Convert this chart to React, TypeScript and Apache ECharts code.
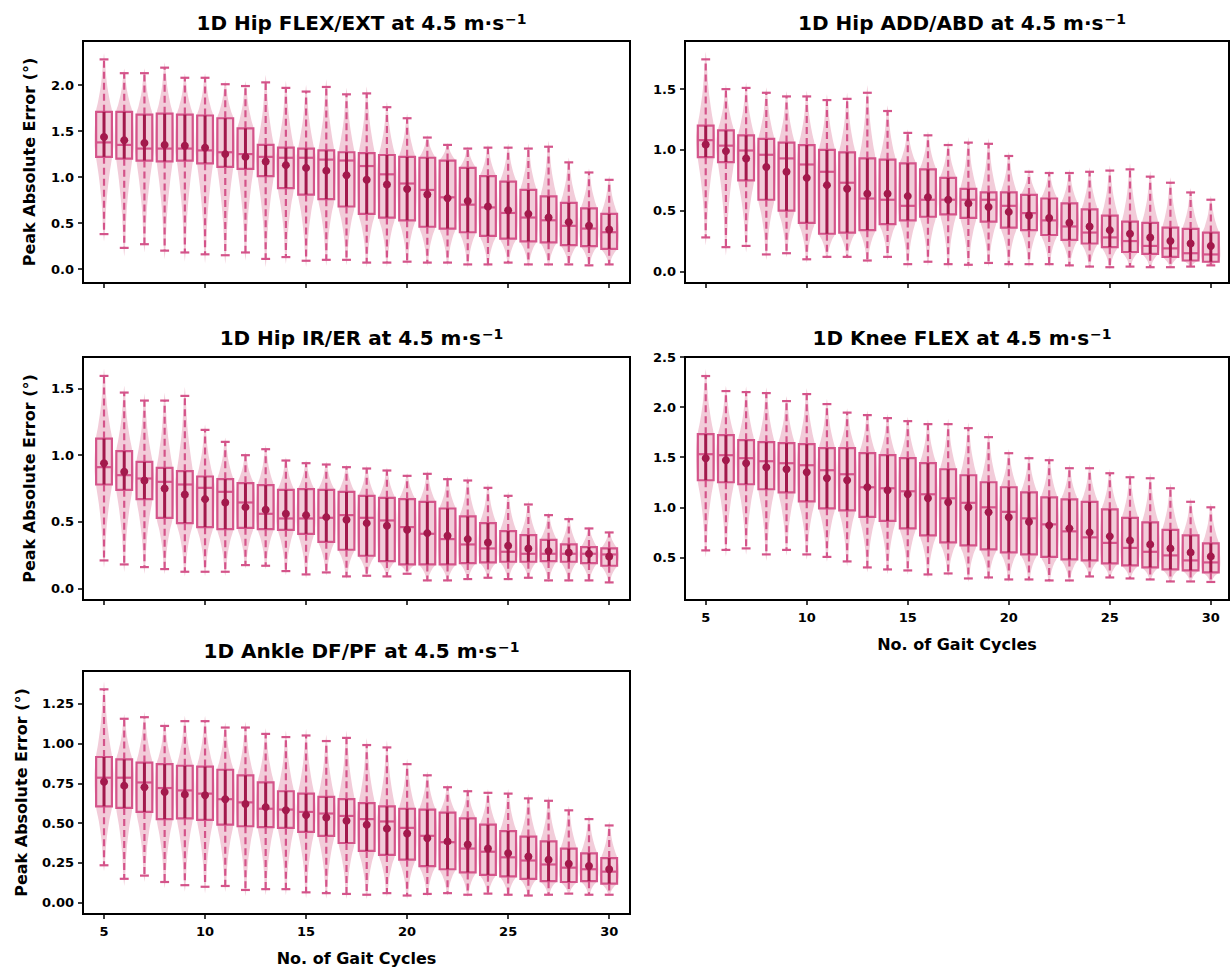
import React, { useEffect, useRef } from "react";
import * as echarts from "echarts";

const cycles = [5, 6, 7, 8, 9, 10, 11, 12, 13, 14, 15, 16, 17, 18, 19, 20, 21, 22, 23, 24, 25, 26, 27, 28, 29, 30];
const xTicks = [5, 10, 15, 20, 25, 30];

// 1D Hip FLEX/EXT
const hipFlexMax = [2.28, 2.13, 2.13, 2.19, 2.08, 2.08, 2.01, 1.99, 2.03, 1.97, 1.93, 1.98, 1.9, 1.91, 1.76, 1.64, 1.43, 1.35, 1.31, 1.32, 1.32, 1.31, 1.33, 1.16, 1.05, 0.97];
const hipFlexQ3 = [1.71, 1.71, 1.68, 1.69, 1.68, 1.67, 1.64, 1.53, 1.35, 1.32, 1.31, 1.29, 1.27, 1.26, 1.24, 1.22, 1.21, 1.18, 1.1, 1.01, 0.95, 0.86, 0.79, 0.72, 0.66, 0.6];
const hipFlexMed = [1.377, 1.35, 1.31, 1.31, 1.31, 1.29, 1.27, 1.25, 1.22, 1.21, 1.21, 1.19, 1.18, 1.12, 1.03, 0.93, 0.86, 0.78, 0.7, 0.67, 0.61, 0.56, 0.53, 0.47, 0.44, 0.4];
const hipFlexMean = [1.435, 1.4, 1.37, 1.35, 1.34, 1.32, 1.25, 1.22, 1.17, 1.13, 1.1, 1.07, 1.02, 0.97, 0.92, 0.87, 0.81, 0.77, 0.74, 0.68, 0.64, 0.6, 0.56, 0.51, 0.47, 0.43];
const hipFlexQ1 = [1.22, 1.2, 1.18, 1.17, 1.18, 1.15, 1.11, 1.09, 1.01, 0.88, 0.81, 0.76, 0.68, 0.6, 0.56, 0.53, 0.46, 0.44, 0.4, 0.36, 0.33, 0.3, 0.29, 0.26, 0.25, 0.22];
const hipFlexMin = [0.38, 0.23, 0.27, 0.2, 0.18, 0.16, 0.15, 0.18, 0.11, 0.13, 0.09, 0.1, 0.1, 0.07, 0.07, 0.08, 0.07, 0.07, 0.05, 0.05, 0.07, 0.05, 0.05, 0.05, 0.04, 0.05];

// 1D Hip ADD/ABD
const hipAddMax = [1.745, 1.5, 1.51, 1.47, 1.44, 1.44, 1.41, 1.42, 1.47, 1.32, 1.14, 1.12, 1.04, 1.06, 1.05, 0.95, 0.82, 0.81, 0.81, 0.82, 0.83, 0.84, 0.78, 0.73, 0.65, 0.59];
const hipAddQ3 = [1.2, 1.16, 1.12, 1.09, 1.06, 1.04, 1.0, 0.98, 0.93, 0.92, 0.89, 0.84, 0.77, 0.68, 0.65, 0.65, 0.63, 0.6, 0.56, 0.51, 0.46, 0.41, 0.4, 0.36, 0.35, 0.32];
const hipAddMed = [1.08, 1.035, 0.995, 0.96, 0.93, 0.88, 0.82, 0.73, 0.6, 0.59, 0.54, 0.59, 0.59, 0.59, 0.59, 0.54, 0.48, 0.42, 0.37, 0.32, 0.28, 0.25, 0.21, 0.19, 0.15, 0.14];
const hipAddMean = [1.044, 0.99, 0.93, 0.86, 0.82, 0.77, 0.71, 0.68, 0.64, 0.64, 0.62, 0.61, 0.59, 0.56, 0.53, 0.49, 0.46, 0.44, 0.4, 0.37, 0.34, 0.31, 0.28, 0.25, 0.23, 0.21];
const hipAddQ1 = [0.94, 0.9, 0.75, 0.59, 0.5, 0.4, 0.31, 0.32, 0.34, 0.39, 0.42, 0.45, 0.47, 0.44, 0.41, 0.36, 0.34, 0.3, 0.26, 0.23, 0.2, 0.16, 0.145, 0.12, 0.09, 0.08];
const hipAddMin = [0.28, 0.2, 0.21, 0.14, 0.15, 0.1, 0.12, 0.12, 0.09, 0.12, 0.06, 0.08, 0.06, 0.055, 0.07, 0.06, 0.06, 0.06, 0.05, 0.04, 0.035, 0.04, 0.035, 0.035, 0.04, 0.05];

// 1D Hip IR/ER
const hipRotMax = [1.595, 1.47, 1.41, 1.41, 1.445, 1.19, 1.1, 1.0, 1.045, 0.96, 0.94, 0.93, 0.91, 0.9, 0.885, 0.845, 0.86, 0.82, 0.81, 0.755, 0.695, 0.63, 0.55, 0.52, 0.45, 0.42];
const hipRotQ3 = [1.125, 1.03, 0.95, 0.905, 0.88, 0.84, 0.82, 0.79, 0.775, 0.74, 0.745, 0.74, 0.725, 0.695, 0.68, 0.67, 0.65, 0.6, 0.54, 0.49, 0.43, 0.4, 0.365, 0.33, 0.31, 0.3];
const hipRotMed = [0.91, 0.85, 0.825, 0.8, 0.78, 0.755, 0.725, 0.645, 0.56, 0.525, 0.525, 0.53, 0.55, 0.53, 0.51, 0.46, 0.41, 0.37, 0.33, 0.3, 0.275, 0.26, 0.26, 0.26, 0.26, 0.255];
const hipRotMean = [0.94, 0.875, 0.81, 0.75, 0.705, 0.67, 0.645, 0.61, 0.59, 0.56, 0.55, 0.535, 0.515, 0.49, 0.47, 0.44, 0.415, 0.395, 0.37, 0.345, 0.32, 0.3, 0.28, 0.27, 0.26, 0.24];
const hipRotQ1 = [0.78, 0.74, 0.67, 0.53, 0.49, 0.46, 0.445, 0.455, 0.445, 0.44, 0.41, 0.35, 0.29, 0.245, 0.205, 0.18, 0.18, 0.18, 0.19, 0.195, 0.2, 0.2, 0.205, 0.2, 0.19, 0.17];
const hipRotMin = [0.21, 0.18, 0.16, 0.145, 0.125, 0.125, 0.125, 0.175, 0.17, 0.13, 0.105, 0.12, 0.09, 0.095, 0.09, 0.11, 0.06, 0.06, 0.07, 0.08, 0.07, 0.08, 0.06, 0.06, 0.06, 0.045];

// 1D Knee FLEX
const kneeMax = [2.31, 2.16, 2.15, 2.14, 2.06, 2.13, 2.03, 1.945, 1.92, 1.89, 1.86, 1.83, 1.83, 1.79, 1.7, 1.54, 1.49, 1.47, 1.39, 1.39, 1.34, 1.3, 1.29, 1.19, 1.055, 1.0];
const kneeQ3 = [1.73, 1.72, 1.67, 1.65, 1.64, 1.63, 1.59, 1.59, 1.54, 1.52, 1.49, 1.44, 1.38, 1.32, 1.25, 1.2, 1.15, 1.1, 1.08, 1.055, 0.98, 0.895, 0.85, 0.775, 0.72, 0.64];
const kneeMed = [1.53, 1.52, 1.49, 1.46, 1.44, 1.42, 1.37, 1.33, 1.2, 1.19, 1.16, 1.13, 1.09, 1.045, 1.0, 0.955, 0.89, 0.83, 0.76, 0.7, 0.645, 0.595, 0.556, 0.52, 0.47, 0.45];
const kneeMean = [1.49, 1.47, 1.44, 1.4, 1.38, 1.35, 1.29, 1.27, 1.2, 1.17, 1.13, 1.09, 1.05, 1.0, 0.95, 0.9, 0.855, 0.82, 0.79, 0.75, 0.71, 0.67, 0.63, 0.59, 0.55, 0.51];
const kneeQ1 = [1.27, 1.25, 1.23, 1.18, 1.15, 1.06, 0.99, 0.97, 0.905, 0.865, 0.79, 0.72, 0.65, 0.62, 0.58, 0.55, 0.53, 0.505, 0.48, 0.47, 0.44, 0.42, 0.4, 0.38, 0.37, 0.35];
const kneeMin = [0.57, 0.575, 0.59, 0.53, 0.575, 0.53, 0.505, 0.46, 0.4, 0.38, 0.37, 0.33, 0.34, 0.29, 0.3, 0.28, 0.28, 0.27, 0.27, 0.31, 0.3, 0.29, 0.28, 0.26, 0.26, 0.255];

// 1D Ankle DF/PF
const ankleMax = [1.34, 1.155, 1.165, 1.11, 1.14, 1.14, 1.1, 1.1, 1.06, 1.04, 1.05, 1.015, 1.035, 0.99, 0.975, 0.87, 0.8, 0.725, 0.7, 0.69, 0.685, 0.655, 0.64, 0.58, 0.525, 0.485];
const ankleQ3 = [0.915, 0.9, 0.88, 0.87, 0.86, 0.855, 0.835, 0.8, 0.755, 0.7, 0.685, 0.665, 0.65, 0.625, 0.605, 0.59, 0.585, 0.565, 0.53, 0.49, 0.45, 0.415, 0.385, 0.34, 0.31, 0.28];
const ankleMed = [0.785, 0.785, 0.755, 0.72, 0.705, 0.685, 0.65, 0.63, 0.59, 0.585, 0.57, 0.56, 0.545, 0.525, 0.51, 0.47, 0.42, 0.38, 0.34, 0.32, 0.285, 0.265, 0.24, 0.22, 0.21, 0.195];
const ankleMean = [0.76, 0.735, 0.725, 0.695, 0.68, 0.675, 0.65, 0.62, 0.6, 0.58, 0.55, 0.535, 0.515, 0.49, 0.465, 0.435, 0.405, 0.385, 0.365, 0.34, 0.31, 0.29, 0.27, 0.245, 0.23, 0.21];
const ankleQ1 = [0.605, 0.595, 0.57, 0.525, 0.53, 0.52, 0.49, 0.48, 0.475, 0.47, 0.445, 0.42, 0.375, 0.325, 0.3, 0.27, 0.23, 0.21, 0.19, 0.175, 0.165, 0.15, 0.135, 0.13, 0.135, 0.12];
const ankleMin = [0.235, 0.15, 0.17, 0.13, 0.11, 0.1, 0.105, 0.08, 0.085, 0.085, 0.065, 0.06, 0.055, 0.05, 0.06, 0.045, 0.055, 0.06, 0.05, 0.057, 0.05, 0.045, 0.05, 0.057, 0.05, 0.05];

const ticks1 = [0, 0.5, 1.0, 1.5, 2.0];
const ticks2 = [0, 0.5, 1.0, 1.5];
const ticks3 = [0, 0.5, 1.0, 1.5];
const ticks4 = [0.5, 1.0, 1.5, 2.0, 2.5];
const ticks5 = [0, 0.25, 0.5, 0.75, 1.0, 1.25];

const FONT = "'DejaVu Sans', sans-serif";
const PINK = "#d4548a";
const DARK = "#a3194c";
const VIOLIN = "#f2ccd9";

const panels = [
  { title: "1D Hip FLEX/EXT at 4.5 m·s", mn: hipFlexMin, q1: hipFlexQ1, md: hipFlexMed, q3: hipFlexQ3, mx: hipFlexMax, mean: hipFlexMean,
    grid: { left: 83, top: 41, width: 547, height: 242 }, xr: [3.96, 31.03], yr: [-0.152, 2.48], ticks: ticks1, dec: 1, xLabels: false, yName: true, titleTop: 7 },
  { title: "1D Hip ADD/ABD at 4.5 m·s", mn: hipAddMin, q1: hipAddQ1, md: hipAddMed, q3: hipAddQ3, mx: hipAddMax, mean: hipAddMean,
    grid: { left: 685, top: 41, width: 544, height: 242 }, xr: [3.975, 30.9], yr: [-0.095, 1.896], ticks: ticks2, dec: 1, xLabels: false, yName: false, titleTop: 7 },
  { title: "1D Hip IR/ER at 4.5 m·s", mn: hipRotMin, q1: hipRotQ1, md: hipRotMed, q3: hipRotQ3, mx: hipRotMax, mean: hipRotMean,
    grid: { left: 83, top: 357, width: 547, height: 243 }, xr: [3.96, 31.03], yr: [-0.087, 1.737], ticks: ticks3, dec: 1, xLabels: false, yName: true, titleTop: 322 },
  { title: "1D Knee FLEX at 4.5 m·s", mn: kneeMin, q1: kneeQ1, md: kneeMed, q3: kneeQ3, mx: kneeMax, mean: kneeMean,
    grid: { left: 685, top: 357, width: 544, height: 243 }, xr: [3.975, 30.9], yr: [0.075, 2.5], ticks: ticks4, dec: 1, xLabels: true, yName: false, titleTop: 322 },
  { title: "1D Ankle DF/PF at 4.5 m·s", mn: ankleMin, q1: ankleQ1, md: ankleMed, q3: ankleQ3, mx: ankleMax, mean: ankleMean,
    grid: { left: 83, top: 671, width: 547, height: 243 }, xr: [3.96, 31.03], yr: [-0.071, 1.455], ticks: ticks5, dec: 2, xLabels: true, yName: true, titleTop: 635 },
];

function renderItem(params: any, api: any) {
  const x = api.value(0);
  const mn = api.value(1), q1 = api.value(2), md = api.value(3), q3 = api.value(4), mx = api.value(5), mean = api.value(6);
  const unit = api.size([1, 0])[0];
  const cx = api.coord([x, md])[0];
  const y = (v: number) => api.coord([x, v])[1];
  const yMn = y(mn), yQ1 = y(q1), yMd = y(md), yQ3 = y(q3), yMx = y(mx), yMean = y(mean);
  const boxHalf = unit * 0.39;
  const capHalf = unit * 0.22;
  const vHalf = unit * 0.47;
  // violin outline from quantiles
  const prof: [number, number][] = [
    [mx + (mx - q3) * 0.12, 0.0],
    [mx, 0.08],
    [q3 + (mx - q3) * 0.55, 0.3],
    [q3 + (mx - q3) * 0.2, 0.62],
    [q3, 0.85],
    [md, 1.0],
    [q1, 0.85],
    [q1 - (q1 - mn) * 0.25, 0.55],
    [q1 - (q1 - mn) * 0.6, 0.25],
    [mn, 0.08],
    [mn - (q1 - mn) * 0.1, 0.0],
  ];
  const left = prof.map(([v, w]) => [cx - w * vHalf, y(v)]);
  const right = prof.slice().reverse().map(([v, w]) => [cx + w * vHalf, y(v)]);
  return {
    type: "group",
    children: [
      { type: "polygon", shape: { points: left.concat(right), smooth: 0.35 }, style: { fill: VIOLIN, stroke: null } },
      { type: "line", shape: { x1: cx, y1: yQ3, x2: cx, y2: yMx }, style: { stroke: PINK, lineWidth: 2.2, lineDash: [7, 4] } },
      { type: "line", shape: { x1: cx, y1: yQ1, x2: cx, y2: yMn }, style: { stroke: PINK, lineWidth: 2.2, lineDash: [7, 4] } },
      { type: "line", shape: { x1: cx - capHalf, y1: yMx, x2: cx + capHalf, y2: yMx }, style: { stroke: PINK, lineWidth: 2.2 } },
      { type: "line", shape: { x1: cx - capHalf, y1: yMn, x2: cx + capHalf, y2: yMn }, style: { stroke: PINK, lineWidth: 2.2 } },
      { type: "rect", shape: { x: cx - boxHalf, y: yQ3, width: boxHalf * 2, height: yQ1 - yQ3 }, style: { fill: null, stroke: PINK, lineWidth: 2.2 } },
      { type: "line", shape: { x1: cx - boxHalf, y1: yMd, x2: cx + boxHalf, y2: yMd }, style: { stroke: PINK, lineWidth: 2.2 } },
      { type: "line", shape: { x1: cx, y1: yQ1, x2: cx, y2: yQ3 }, style: { stroke: DARK, lineWidth: 3 } },
      { type: "circle", shape: { cx, cy: yMean, r: 4 }, style: { fill: DARK, stroke: null } },
    ],
  };
}

export default function App() {
  const ref = useRef<HTMLDivElement>(null);
  useEffect(() => {
    document.body.style.margin = "0";
    const chart = echarts.init(ref.current!, null, { renderer: "svg" });
    const option: any = {
      animation: false,
      backgroundColor: "#fff",
      title: panels.map((p) => ({
        text: p.title + "{sup|−1}",
        left: p.grid.left + p.grid.width / 2,
        top: p.titleTop,
        textAlign: "center",
        textStyle: {
          fontFamily: FONT, fontSize: 20, fontWeight: "bold", color: "#000",
          rich: { sup: { fontFamily: FONT, fontSize: 14, fontWeight: "bold", color: "#000", verticalAlign: "top", padding: [0, 0, 7, 1] } },
        },
      })),
      grid: panels.map((p) => ({ ...p.grid, show: true, borderColor: "#000", borderWidth: 2, backgroundColor: "transparent" })),
      xAxis: panels.map((p, i) => ({
        type: "value", gridIndex: i, min: p.xr[0], max: p.xr[1],
        axisLine: { show: true, onZero: false, lineStyle: { color: "#000", width: 2 } },
        axisTick: { show: true, length: 5, lineStyle: { color: "#000", width: 1.5 }, customValues: xTicks },
        axisLabel: { show: p.xLabels, customValues: xTicks, margin: 11, fontFamily: FONT, fontSize: 13, fontWeight: "bold", color: "#000" },
        splitLine: { show: false },
        name: p.xLabels ? "No. of Gait Cycles" : "",
        nameLocation: "middle", nameGap: 36,
        nameTextStyle: { fontFamily: FONT, fontSize: 16, fontWeight: "bold", color: "#000" },
      })),
      yAxis: panels.map((p, i) => ({
        type: "value", gridIndex: i, min: p.yr[0], max: p.yr[1],
        axisLine: { show: true, onZero: false, lineStyle: { color: "#000", width: 2 } },
        axisTick: { show: true, length: 5, lineStyle: { color: "#000", width: 1.5 }, customValues: p.ticks },
        axisLabel: {
          show: true, customValues: p.ticks, margin: 9, fontFamily: FONT, fontSize: 13, fontWeight: "bold", color: "#000",
          formatter: (v: number) => v.toFixed(p.dec),
        },
        splitLine: { show: false },
        name: p.yName ? "Peak Absolute Error (°)" : "",
        nameLocation: "middle", nameGap: p.dec === 2 ? 54 : 46, nameRotate: 90,
        nameTextStyle: { fontFamily: FONT, fontSize: 16, fontWeight: "bold", color: "#000" },
      })),
      series: panels.map((p, i) => ({
        type: "custom", xAxisIndex: i, yAxisIndex: i,
        renderItem,
        encode: { x: 0, y: [1, 2, 3, 4, 5, 6] },
        data: cycles.map((c, k) => [c, p.mn[k], p.q1[k], p.md[k], p.q3[k], p.mx[k], p.mean[k]]),
        clip: true,
      })),
    };
    chart.setOption(option);
    return () => chart.dispose();
  }, []);
  return <div ref={ref} style={{ position: "fixed", left: 0, top: 0, width: 1231, height: 973, background: "#fff" }} />;
}
